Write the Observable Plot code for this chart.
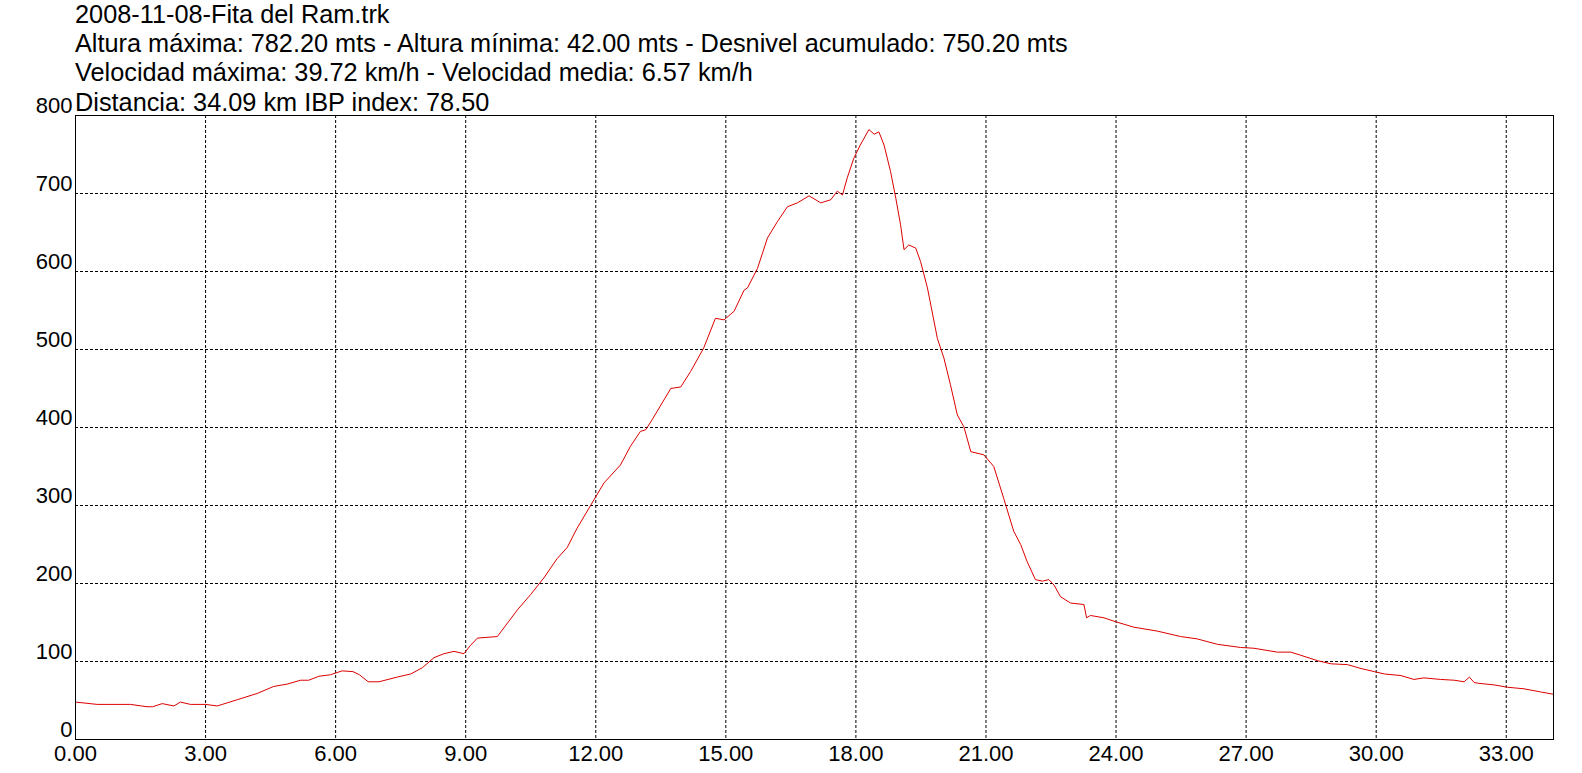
<!DOCTYPE html>
<html>
<head>
<meta charset="utf-8">
<script src="https://cdn.jsdelivr.net/npm/d3@7"></script>
<script src="https://cdn.jsdelivr.net/npm/@observablehq/plot@0.6"></script>
<style>
  html, body { margin: 0; padding: 0; background: #fff; }
  #wrap { position: relative; width: 1582px; height: 773px; }
  #head { position: absolute; left: 75px; top: 0; z-index: 2;
          font-family: "Liberation Sans", Arial, sans-serif; font-size: 25.3px;
          line-height: 29.2px; color: #000; white-space: nowrap; }
  #chart { position: absolute; left: 0; top: 0; }
</style>
</head>
<body>
<div id="wrap">
  <div id="chart"></div>
  <div id="head"></div>
</div>
<script>
const titleLines = [
  "2008-11-08-Fita del Ram.trk",
  "Altura máxima: 782.20 mts - Altura mínima: 42.00 mts - Desnivel acumulado: 750.20 mts",
  "Velocidad máxima: 39.72 km/h - Velocidad media: 6.57 km/h",
  "Distancia: 34.09 km IBP index: 78.50"
];

const distanceKm = [
  0.00, 0.50, 1.27, 1.65, 1.78, 2.00, 2.27, 2.42, 2.65, 3.00,
  3.27, 3.73, 4.19, 4.57, 4.88, 5.19, 5.38, 5.61, 5.88, 6.15,
  6.40, 6.55, 6.75, 7.00, 7.42, 7.73, 8.00, 8.27, 8.50, 8.73,
  8.96, 9.10, 9.27, 9.73, 10.19, 10.50, 10.80, 11.11, 11.34, 11.57,
  11.88, 12.19, 12.57, 12.80, 13.03, 13.15, 13.30, 13.73, 13.96, 14.19,
  14.49, 14.76, 14.96, 15.19, 15.42, 15.50, 15.73, 15.96, 16.19, 16.42,
  16.65, 16.92, 17.19, 17.42, 17.57, 17.69, 17.80, 17.95, 18.10, 18.30,
  18.42, 18.53, 18.65, 18.80, 18.92, 19.03, 19.11, 19.22, 19.38, 19.49,
  19.65, 19.88, 20.03, 20.18, 20.34, 20.49, 20.65, 20.95, 21.18, 21.41,
  21.64, 21.80, 21.95, 22.14, 22.30, 22.45, 22.57, 22.72, 22.95, 23.26,
  23.32, 23.41, 23.72, 23.99, 24.41, 24.95, 25.49, 25.87, 26.34, 26.87,
  27.18, 27.72, 28.03, 28.26, 28.65, 28.96, 29.34, 29.65, 29.96, 30.19,
  30.57, 30.87, 31.10, 31.49, 31.80, 32.03, 32.15, 32.26, 32.37, 32.72,
  33.03, 33.41, 33.79, 34.09
];
const altitudeM = [
  48, 45, 45, 42, 42, 46, 43, 48, 45, 45,
  43, 51, 59, 68, 71, 76, 76, 81, 83, 88,
  87, 83, 74, 74, 80, 84, 92, 105, 110, 113,
  110, 120, 130, 132, 166, 186, 207, 232, 246, 271,
  300, 329, 352, 376, 395, 397, 410, 450, 452, 472,
  502, 540, 538, 549, 576, 579, 604, 643, 664, 683,
  688, 697, 688, 692, 703, 698, 720, 745, 762, 782,
  776, 779, 762, 728, 694, 660, 628, 634, 630, 613,
  579, 514, 489, 455, 416, 401, 369, 365, 350, 309,
  267, 250, 228, 205, 203, 205, 198, 183, 175, 173,
  156, 159, 156, 151, 144, 139, 132, 129, 122, 118,
  117, 112, 112, 108, 101, 97, 96, 91, 87, 84,
  82, 77, 79, 77, 76, 74, 80, 73, 72, 70,
  67, 65, 61, 58
];

const xTicks = [0, 3, 6, 9, 12, 15, 18, 21, 24, 27, 30, 33];
const yTicks = [0, 100, 200, 300, 400, 500, 600, 700, 800];
const xDomain = [0, 34.09];
const yDomain = [0, 800];

const head = document.getElementById("head");
titleLines.forEach(t => { const d = document.createElement("div"); d.textContent = t; head.appendChild(d); });

const data = distanceKm.map((d, i) => ({km: d, alt: altitudeM[i]}));

const chart = Plot.plot({
  width: 1582,
  height: 773,
  marginTop: 115,
  marginLeft: 75,
  marginRight: 29,
  marginBottom: 34,
  style: {fontFamily: "'Liberation Sans', Arial, sans-serif", fontSize: "22px", color: "#000", background: "#fff"},
  x: {domain: xDomain},
  y: {domain: yDomain},
  marks: [
    Plot.gridX(xTicks.slice(1), {stroke: "#000", strokeOpacity: 1, strokeDasharray: "3,2"}),
    Plot.gridY(yTicks.slice(1, -1), {stroke: "#000", strokeOpacity: 1, strokeDasharray: "3,2"}),
    Plot.line(data, {x: "km", y: "alt", stroke: "#dd0000", strokeWidth: 1}),
    Plot.frame({stroke: "#000"}),
    Plot.axisX(xTicks, {tickSize: 0, tickPadding: 6, tickFormat: d => d.toFixed(2), label: null, fill: "#000", fontSize: 22}),
    Plot.axisY(yTicks, {tickSize: 0, tickPadding: 3, dy: -10, label: null, fill: "#000", fontSize: 22})
  ]
});
document.getElementById("chart").appendChild(chart);
</script>
</body>
</html>
